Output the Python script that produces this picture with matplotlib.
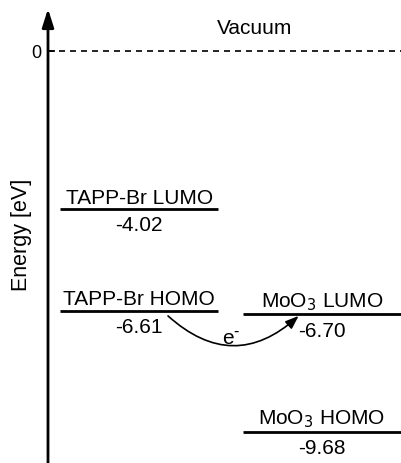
import matplotlib.pyplot as plt

plt.rcParams['font.family'] = ['Liberation Sans', 'DejaVu Sans']

# energy levels (eV)
names = ["TAPP-Br LUMO", "TAPP-Br HOMO", "MoO$_3$ LUMO", "MoO$_3$ HOMO"]
energies = [-4.02, -6.61, -6.70, -9.68]
columns = [0, 0, 1, 1]

# horizontal extents of the two columns (axes x units)
col_span = [(0.034, 0.482), (0.552, 1.0)]

fig = plt.figure(figsize=(4.01, 4.64), dpi=100)
ax = fig.add_axes([0.1197, 0.0, 0.8803, 1.0])
ax.set_xlim(0, 1)
ax.set_ylim(-10.48, 1.32)

for s in ax.spines.values():
    s.set_visible(False)
ax.set_xticks([])
ax.set_yticks([0])
ax.set_yticklabels(["0"], fontsize=13)
ax.tick_params(axis='y', direction='in', length=5, width=1.2, pad=5)

# energy axis with arrow head
ax.annotate("", xy=(0, 1.07), xytext=(0, -10.48),
            xycoords=('axes fraction', 'data'),
            arrowprops=dict(arrowstyle='-|>,head_length=1.1,head_width=0.35',
                            lw=2, color='black', shrinkA=0, shrinkB=0))
ax.set_ylabel("Energy [eV]", fontsize=15.5)
ax.yaxis.set_label_coords(-0.045, 0.494)

# vacuum level
ax.axhline(0, color='black', lw=1.2, ls=(0, (3.6, 3)))
ax.text(0.585, 0.59, "Vacuum", ha='center', va='center', fontsize=15)

for name, e, c in zip(names, energies, columns):
    x0, x1 = col_span[c]
    xm = (x0 + x1) / 2
    ax.plot([x0, x1], [e, e], color='black', lw=2, solid_capstyle='butt')
    ax.text(xm, e + 0.06, name, ha='center', va='bottom', fontsize=15)
    ax.text(xm, e - 0.16, f"{e:.2f}", ha='center', va='top', fontsize=15)

# electron transfer arrow
ax.annotate("", xy=(0.71, -6.74), xytext=(0.34, -6.74),
            arrowprops=dict(arrowstyle='-|>,head_length=0.8,head_width=0.3',
                            connectionstyle='arc3,rad=0.45', lw=1.2,
                            color='black', shrinkA=0, shrinkB=0))
ax.text(0.52, -7.32, "e$^{\\text{-}}$", ha='center', va='center', fontsize=15)

fig.savefig("out.png", dpi=100)
